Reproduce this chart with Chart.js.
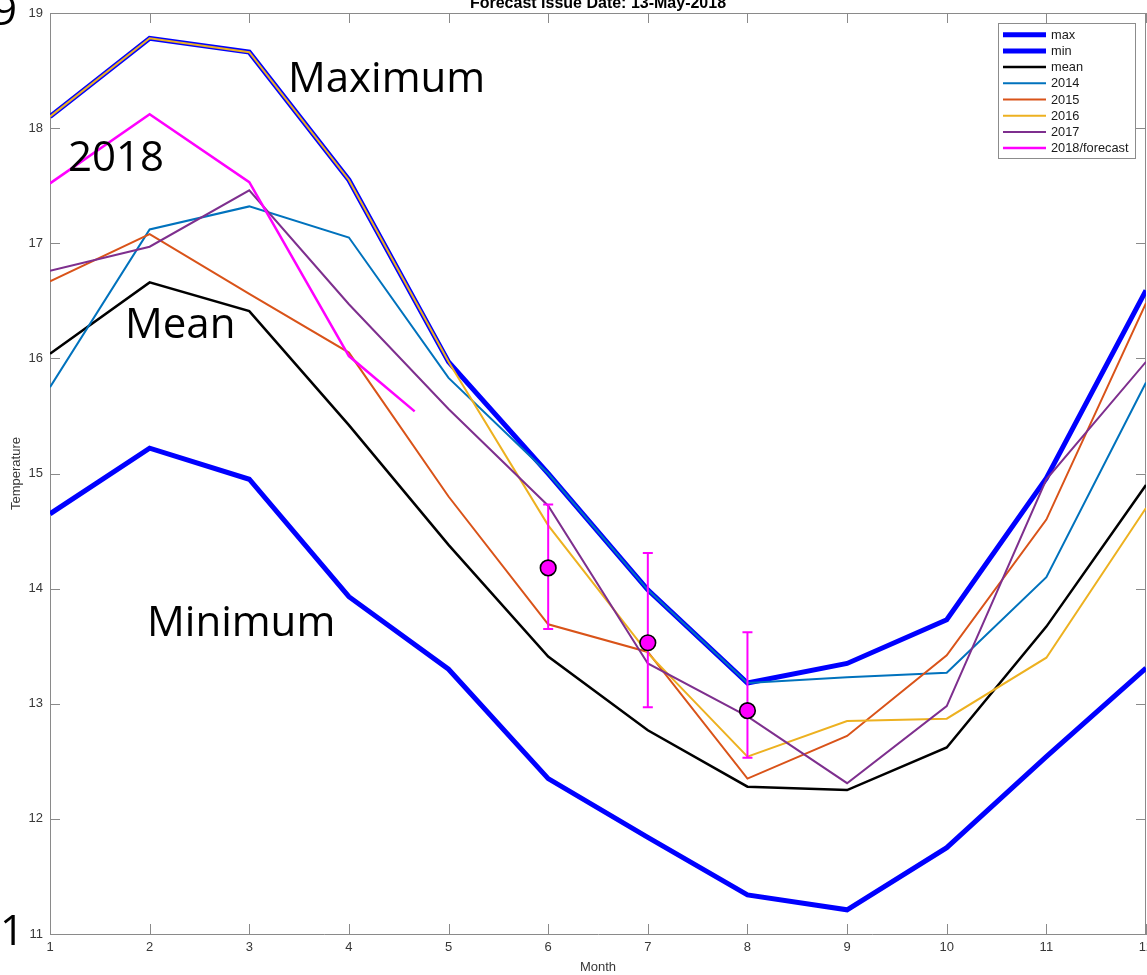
<!DOCTYPE html>
<html>
<head>
<meta charset="utf-8">
<script src="https://cdn.jsdelivr.net/npm/chart.js@4/dist/chart.umd.min.js"></script>
<style>
  html, body { margin: 0; padding: 0; background: #fff; overflow: hidden; }
  #wrap { width: 1147px; height: 975px; position: relative; overflow: hidden; }
  #c { position: absolute; left: 0; top: 0; }
</style>
</head>
<body>
<div id="wrap"><canvas id="c" width="1156" height="975"></canvas></div>
<script>
// Monthly sea temperature climatology and recent years
const months = [1, 2, 3, 4, 5, 6, 7, 8, 9, 10, 11, 12];
const tempTicks = [11, 12, 13, 14, 15, 16, 17, 18, 19];

const maxT  = [18.10, 18.78, 18.66, 17.55, 15.97, 15.00, 13.99, 13.18, 13.35, 13.73, 14.96, 16.59];
const minT  = [14.65, 15.22, 14.95, 13.93, 13.30, 12.35, 11.84, 11.34, 11.21, 11.75, 12.54, 13.31];
const meanT = [16.04, 16.66, 16.41, 15.42, 14.38, 13.41, 12.77, 12.28, 12.25, 12.62, 13.67, 14.90];
const y2014 = [15.75, 17.12, 17.32, 17.05, 15.83, 15.00, 13.99, 13.18, 13.23, 13.27, 14.10, 15.79];
const y2015 = [16.67, 17.08, 16.56, 16.05, 14.80, 13.69, 13.45, 12.35, 12.72, 13.42, 14.60, 16.48];
const y2016 = [18.10, 18.78, 18.66, 17.55, 15.97, 14.55, 13.44, 12.54, 12.85, 12.87, 13.40, 14.70];
const y2017 = [16.76, 16.97, 17.46, 16.47, 15.56, 14.72, 13.35, 12.89, 12.31, 12.98, 14.95, 15.97];

// 2018 observations so far (up to mid May)
const obs2018Months = [1, 2, 3, 4, 4.66];
const obs2018 = [17.52, 18.12, 17.53, 16.02, 15.54];

// forecast for June-August with its range
const fcMonths = [6, 7, 8];
const fcMean = [14.18, 13.53, 12.94];
const fcLow  = [13.65, 12.97, 12.53];
const fcHigh = [14.73, 14.31, 13.62];

const seriesNames = ['max', 'min', 'mean', '2014', '2015', '2016', '2017', '2018/forecast'];

const pts = (xs, ys) => xs.map((x, i) => ({ x: x, y: ys[i] }));
const lineSet = (label, xs, ys, color, width, order) => ({
  label, data: pts(xs, ys), borderColor: color, backgroundColor: color,
  borderWidth: width, showLine: true, pointRadius: 0, pointHoverRadius: 0,
  tension: 0, fill: false, order, borderJoinStyle: 'miter'
});

const datasets = [
  lineSet(seriesNames[0], months, maxT, '#0000ff', 5, 9),
  lineSet(seriesNames[1], months, minT, '#0000ff', 5, 8),
  lineSet(seriesNames[2], months, meanT, '#000000', 2.5, 7),
  lineSet(seriesNames[3], months, y2014, '#0072bd', 2, 6),
  lineSet(seriesNames[4], months, y2015, '#d95319', 2, 5),
  lineSet(seriesNames[5], months, y2016, '#edb120', 2, 4),
  lineSet(seriesNames[6], months, y2017, '#7e2f8e', 2, 3),
  lineSet(seriesNames[7], obs2018Months, obs2018, '#ff00ff', 2.5, 2),
  {
    label: 'forecast', data: pts(fcMonths, fcMean), showLine: false,
    pointRadius: 7.8, pointHoverRadius: 7.8, pointBorderWidth: 1.6,
    pointBackgroundColor: '#ff00ff', pointBorderColor: '#000000',
    borderColor: '#000000', backgroundColor: '#ff00ff', order: 1, noLegend: true
  }
];

const AXIS_FONT = 'Liberation Sans, Helvetica, Arial, sans-serif';
const NOTE_FONT = '"Open Sans", Lato, sans-serif';

// Free text written over the axes: [text, ink left edge, baseline]
const notes = [
  ['Maximum', 292, 92],
  ['2018', 70, 171],
  ['Mean', 129, 338],
  ['Minimum', 151, 636]
];
// Big edge labels whose right ink edge sits at x = 15
const edgeNotes = [
  ['19', 25],
  ['11', 945]
];

const mplStyle = {
  id: 'mplStyle',
  beforeDatasetsDraw(chart) {
    const { ctx, chartArea: a, scales: { x, y } } = chart;
    ctx.save();
    ctx.strokeStyle = '#8a8a8a';
    ctx.lineWidth = 1;
    ctx.beginPath();
    ctx.moveTo(a.left, a.top + 0.5); ctx.lineTo(a.right, a.top + 0.5);
    ctx.moveTo(a.right - 0.5, a.top); ctx.lineTo(a.right - 0.5, a.bottom);
    const tl = 10;
    x.ticks.forEach(t => {
      const px = Math.round(x.getPixelForValue(t.value)) + 0.5;
      ctx.moveTo(px, a.bottom); ctx.lineTo(px, a.bottom - tl);
      ctx.moveTo(px, a.top); ctx.lineTo(px, a.top + tl);
    });
    y.ticks.forEach(t => {
      const py = Math.round(y.getPixelForValue(t.value)) + 0.5;
      ctx.moveTo(a.left, py); ctx.lineTo(a.left + tl, py);
      ctx.moveTo(a.right, py); ctx.lineTo(a.right - tl, py);
    });
    ctx.stroke();
    ctx.restore();
  },
  beforeDatasetDraw(chart, args) {
    if (chart.data.datasets[args.index].label !== 'forecast') return;
    const { ctx, scales: { x, y } } = chart;
    ctx.save();
    ctx.strokeStyle = '#ff00ff';
    ctx.lineWidth = 2;
    ctx.beginPath();
    fcMonths.forEach((m, i) => {
      const px = x.getPixelForValue(m);
      const lo = y.getPixelForValue(fcLow[i]);
      const hi = y.getPixelForValue(fcHigh[i]);
      ctx.moveTo(px, lo); ctx.lineTo(px, hi);
      ctx.moveTo(px - 5, lo); ctx.lineTo(px + 5, lo);
      ctx.moveTo(px - 5, hi); ctx.lineTo(px + 5, hi);
    });
    ctx.stroke();
    ctx.restore();
  },
  afterDraw(chart) {
    const { ctx, chartArea: a } = chart;
    ctx.save();
    // title (runs off the top edge)
    ctx.fillStyle = '#000';
    ctx.font = 'bold 16px ' + AXIS_FONT;
    ctx.textAlign = 'center';
    ctx.textBaseline = 'alphabetic';
    ctx.fillText('Forecast Issue Date: 13-May-2018', (a.left + a.right) / 2, 7.5);

    // legend box
    const lx = 998.5, ly = 23.5, lw = 137, lh = 135;
    ctx.fillStyle = '#fff';
    ctx.fillRect(lx, ly, lw, lh);
    ctx.strokeStyle = '#8c8c8c';
    ctx.lineWidth = 1;
    ctx.strokeRect(lx, ly, lw, lh);
    ctx.font = '12.8px ' + AXIS_FONT;
    ctx.textAlign = 'left';
    ctx.textBaseline = 'middle';
    let row = 0;
    chart.data.datasets.forEach(ds => {
      if (ds.noLegend) return;
      const ry = 34.7 + row * 16.2;
      ctx.strokeStyle = ds.borderColor;
      ctx.lineWidth = ds.borderWidth;
      ctx.beginPath();
      ctx.moveTo(1003, ry); ctx.lineTo(1046, ry);
      ctx.stroke();
      ctx.fillStyle = '#1a1a1a';
      ctx.fillText(ds.label, 1051, ry + 0.5);
      row++;
    });

    // big notes
    ctx.fillStyle = '#000';
    ctx.font = '42px ' + NOTE_FONT;
    ctx.textAlign = 'left';
    ctx.textBaseline = 'alphabetic';
    notes.forEach(([t, left, base]) => {
      const m = ctx.measureText(t);
      ctx.fillText(t, left + m.actualBoundingBoxLeft, base);
    });
    edgeNotes.forEach(([t, base]) => {
      const m = ctx.measureText(t);
      ctx.fillText(t, 15 - m.actualBoundingBoxRight, base);
    });
    ctx.restore();
  }
};

new Chart(document.getElementById('c'), {
  type: 'scatter',
  data: { datasets },
  options: {
    responsive: false,
    devicePixelRatio: 1,
    animation: false,
    events: [],
    layout: { padding: { top: 13, right: 10, bottom: 0, left: 0 } },
    plugins: { legend: { display: false }, tooltip: { enabled: false }, title: { display: false } },
    scales: {
      x: {
        type: 'linear', min: 1, max: 12,
        afterBuildTicks: s => { s.ticks = months.map(v => ({ value: v })); },
        afterFit: s => { s.height = 41; s.paddingLeft = 0; s.paddingRight = 0; },
        ticks: { font: { family: AXIS_FONT, size: 13 }, color: '#383838', padding: 6, maxRotation: 0, autoSkip: false },
        grid: { display: false, drawTicks: false, tickLength: 0 },
        border: { display: true, color: '#8a8a8a', width: 1 },
        title: { display: true, text: 'Month', font: { family: AXIS_FONT, size: 13 }, color: '#383838', padding: { top: 0, bottom: 0 } }
      },
      y: {
        type: 'linear', min: 11, max: 19,
        afterBuildTicks: s => { s.ticks = tempTicks.map(v => ({ value: v })); },
        afterFit: s => { s.width = 50; s.paddingTop = 0; s.paddingBottom = 0; },
        ticks: { font: { family: AXIS_FONT, size: 13 }, color: '#383838', padding: 7, autoSkip: false },
        grid: { display: false, drawTicks: false, tickLength: 0 },
        border: { display: true, color: '#8a8a8a', width: 1 },
        title: { display: true, text: 'Temperature', font: { family: AXIS_FONT, size: 13 }, color: '#383838', padding: { top: 9, bottom: 0 } }
      }
    }
  },
  plugins: [mplStyle]
});
</script>
</body>
</html>
